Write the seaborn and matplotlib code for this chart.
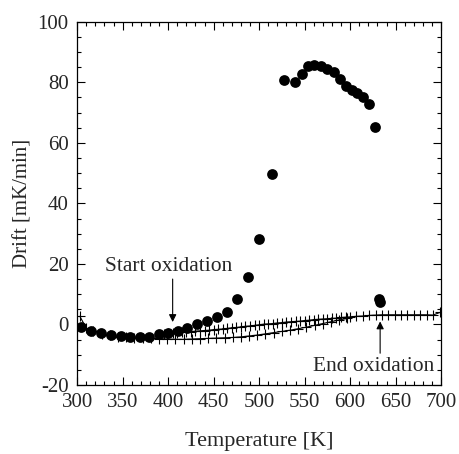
import matplotlib
matplotlib.use("Agg")
import matplotlib.pyplot as plt
import seaborn as sns
import pandas as pd
from matplotlib.ticker import MultipleLocator

# Filled circles (oxidation run)
dot_x = [304.8, 315.8, 326.8, 337.4, 347.7, 357.9, 368.6, 378.8, 389.8, 400.1,
         410.4, 421.0, 431.3, 442.6, 453.6, 465.0, 475.3, 487.4, 499.5, 513.7,
         527.7, 539.8, 546.7, 553.7, 560.7, 567.6, 575.0, 582.0, 588.9, 595.5,
         601.7, 608.0, 614.6, 621.2, 627.4, 631.4, 632.9]
dot_y = [-0.9, -2.0, -2.9, -3.5, -3.9, -4.0, -4.0, -4.0, -3.3, -2.8,
         -2.0, -1.1, 0.1, 1.0, 2.4, 4.2, 8.5, 15.7, 28.1, 49.8,
         80.8, 80.0, 82.6, 85.5, 85.8, 85.4, 84.4, 83.3, 81.0, 78.7,
         77.3, 76.5, 75.0, 72.8, 65.3, 8.3, 7.5]

# Crosses, lower branch
low_x = [303, 310, 318, 327, 336, 345, 354, 363, 372, 381, 390, 399, 408, 417,
         426, 435, 444, 453, 462, 471, 480, 489, 498, 507, 516, 525, 534, 543,
         552, 561, 570, 579, 588, 597]
low_y = [2.7, -1.2, -2.2, -3.0, -3.6, -4.0, -4.2, -4.4, -4.5, -4.6, -4.7, -4.8,
         -4.9, -4.9, -4.8, -4.7, -4.6, -4.5, -4.4, -4.3, -4.1, -3.8, -3.5, -3.1,
         -2.7, -2.3, -1.9, -1.4, -0.9, -0.3, 0.3, 0.9, 1.5, 2.0]

# Crosses, upper branch
up_x = [395, 400, 405, 410, 415, 420, 425, 430, 435, 440, 445, 450, 455, 460,
        465, 470, 475, 480, 485, 490, 495, 500, 505, 510, 515, 520, 525, 530,
        535, 540, 545, 550, 555, 560, 565, 570, 575, 580, 585, 590, 595, 600,
        607, 614, 621, 628, 635, 642, 649, 656, 663, 670, 677, 684, 691, 699]
up_y = [-3.2, -2.9, -2.8, -2.7, -2.6, -2.5, -2.4, -2.2, -2.1, -2.0, -1.9, -1.7,
        -1.6, -1.5, -1.3, -1.1, -1.0, -0.8, -0.6, -0.5, -0.3, -0.1, 0.1, 0.2,
        0.3, 0.5, 0.6, 0.8, 0.9, 1.0, 1.1, 1.3, 1.4, 1.6, 1.7, 1.8, 1.9, 2.0,
        2.1, 2.3, 2.4, 2.5, 2.7, 2.8, 3.0, 3.1, 3.2, 3.2, 3.2, 3.2, 3.2, 3.2,
        3.2, 3.2, 3.1, 4.0]

x_ticks = [300, 350, 400, 450, 500, 550, 600, 650, 700]
y_ticks = [-20, 0, 20, 40, 60, 80, 100]

sns.set_style("ticks")
plt.rcParams['font.family'] = ['Liberation Serif', 'DejaVu Serif']

fig = plt.figure(figsize=(4.59, 4.54), dpi=100)
ax = fig.add_axes([0.168, 0.152, 0.793, 0.800])

df_low = pd.DataFrame({"T": low_x, "D": low_y})
df_up = pd.DataFrame({"T": up_x, "D": up_y})
df_dot = pd.DataFrame({"T": dot_x, "D": dot_y})

line_kw = dict(sort=False, color="black", lw=0.8, marker="+", markersize=7,
               markeredgewidth=0.8, markeredgecolor="black", estimator=None)
sns.lineplot(data=df_low, x="T", y="D", ax=ax, **line_kw)
sns.lineplot(data=df_up, x="T", y="D", ax=ax, **line_kw)
sns.scatterplot(data=df_dot, x="T", y="D", ax=ax, color="black", s=60,
                edgecolor="black", linewidth=0, zorder=5)

ax.set_xlim(300, 700)
ax.set_ylim(-20, 100)
ax.set_xticks(x_ticks)
ax.set_yticks(y_ticks)
ax.set_xticklabels([str(v) for v in x_ticks])
ax.set_yticklabels([str(v) for v in y_ticks])
ax.xaxis.set_minor_locator(MultipleLocator(10))
ax.yaxis.set_minor_locator(MultipleLocator(5))
ax.tick_params(which="both", direction="in", top=True, right=True,
               labelsize=15, width=0.8, color="black")
ax.tick_params(which="major", length=6, pad=6)
ax.tick_params(which="minor", length=3)
for s in ax.spines.values():
    s.set_linewidth(0.9)
    s.set_color("black")

ax.set_xlabel("Temperature [K]", fontsize=16, labelpad=14)
ax.set_ylabel("Drift [mK/min]", fontsize=15, labelpad=4)

ax.text(401, 19, "Start oxidation", ha="center", va="center", fontsize=15.5)
ax.annotate("", xy=(405, 0.8), xytext=(405, 15),
            arrowprops=dict(arrowstyle="-|>", color="black", lw=0.8,
                            mutation_scale=11, shrinkA=0, shrinkB=0))
ax.text(626, -13.8, "End oxidation", ha="center", va="center", fontsize=15.5)
ax.annotate("", xy=(633, 1.0), xytext=(633, -9.5),
            arrowprops=dict(arrowstyle="-|>", color="black", lw=0.8,
                            mutation_scale=11, shrinkA=0, shrinkB=0))

fig.savefig("out.png", dpi=100)
